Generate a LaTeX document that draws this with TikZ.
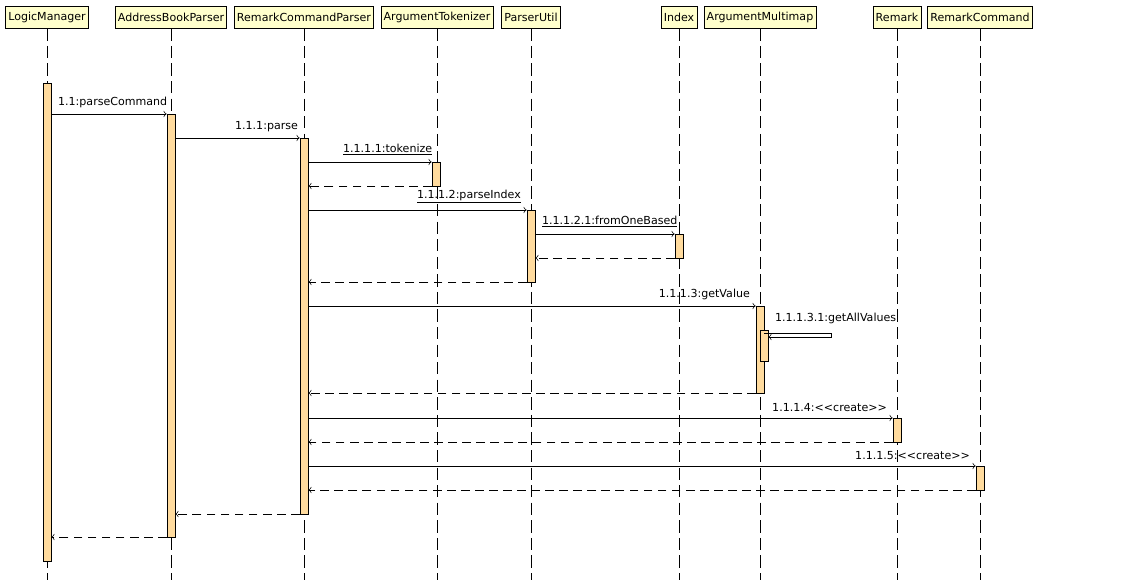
\documentclass[tikz,border=0pt]{standalone}
\usepackage{fontspec}
\setmainfont{DejaVu Sans}
\usetikzlibrary{positioning}
\usetikzlibrary{calc}
\definecolor{headfill}{HTML}{FFFFCC}
\definecolor{actfill}{HTML}{FFDB9E}
\tikzset{
  head/.style={draw, fill=headfill, inner sep=1.5pt, minimum height=22*0.02cm, font=\fontsize{6.3}{7}\selectfont},
  life/.style={dashed, dash pattern=on 7pt off 3pt, thin},
  act/.style={draw, fill=actfill, minimum width=8*0.02cm, inner sep=0pt, thin},
  msg/.style={->, thin},
  ret/.style={->, thin, dashed, dash pattern=on 5pt off 3pt},
  lbl/.style={font=\fontsize{6.3}{7}\selectfont, inner sep=1pt}
}
\begin{document}
\begin{tikzpicture}[x=0.02cm, y=-0.02cm]
	\useasboundingbox (0,0) rectangle (1143,580);

	% lifeline heads
	\node[head] (LM)  at (47,17)  {LogicManager};
	\node[head] (ABP) at (171,17) {AddressBookParser};
	\node[head] (RCP) at (304,17) {RemarkCommandParser};
	\node[head] (AT)  at (437,17) {ArgumentTokenizer};
	\node[head] (PU)  at (531,17) {ParserUtil};
	\node[head] (IDX) at (679,17) {Index};
	\node[head] (AM)  at (760,17) {ArgumentMultimap};
	\node[head] (RM)  at (897,17) {Remark};
	\node[head] (RC)  at (980,17) {RemarkCommand};

	% lifelines
	\foreach \h/\x in {LM/47,ABP/171,RCP/304,AT/437,PU/531,IDX/679,AM/760,RM/897,RC/980}
		\draw[life] (\h.south) -- (\x,580);

	% activations
	\newcommand{\actbox}[4]{\node[act, minimum height={(#4-#3)*0.02cm}] (#1) at (#2,{(#3+#4)/2}) {};}
	\actbox{aLM}{47}{83}{561}
	\actbox{aABP}{171}{114}{537}
	\actbox{aRCP}{304}{138}{514}
	\actbox{aAT}{436}{162}{186}
	\actbox{aPU}{531}{210}{282}
	\actbox{aIDX}{679}{234}{258}
	\actbox{aAM}{760}{306}{393}
	\actbox{aAMs}{764}{330}{361}
	\actbox{aRM}{897}{418}{442}
	\actbox{aRC}{980}{466}{490}

	% messages
	\draw[msg] (aLM.east |- 0,114) -- (aABP.west |- 0,114);
	\node[lbl, anchor=south west] (l1) at (56,110) {1.1:parseCommand};
	\draw[msg] (aABP.east |- 0,138) -- (aRCP.west |- 0,138);
	\node[lbl, anchor=south west] (l2) at (233,134) {1.1.1:parse};
	\draw[msg] (aRCP.east |- 0,162) -- (aAT.west |- 0,162);
	\node[lbl, anchor=south west] (l3) at (341,158) {\underline{1.1.1.1:tokenize}};
	\draw[ret] (aAT.west |- 0,186) -- (aRCP.east |- 0,186);
	\draw[msg] (aRCP.east |- 0,210) -- (aPU.west |- 0,210);
	\node[lbl, anchor=south east] (l4) at (523,206) {\underline{1.1.1.2:parseIndex}};
	\draw[msg] (aPU.east |- 0,234) -- (aIDX.west |- 0,234);
	\node[lbl, anchor=south west] (l5) at (540,230) {\underline{1.1.1.2.1:fromOneBased}};
	\draw[ret] (aIDX.west |- 0,258) -- (aPU.east |- 0,258);
	\draw[ret] (aPU.west |- 0,282) -- (aRCP.east |- 0,282);
	\draw[msg] (aRCP.east |- 0,306) -- (aAM.west |- 0,306);
	\node[lbl, anchor=south east] (l6) at (752,302) {1.1.1.3:getValue};
	\coordinate (selfA) at (831,333);
	\draw[msg] (aAM.east |- 0,333) -- (selfA) -- ++(0,4) -- (aAMs.east |- 0,337);
	\node[lbl, anchor=south west] (l7) at (773,326) {1.1.1.3.1:getAllValues};
	\draw[ret] (aAM.west |- 0,393) -- (aRCP.east |- 0,393);
	\draw[msg] (aRCP.east |- 0,418) -- (aRM.west |- 0,418);
	\node[lbl, anchor=south east] (l8) at (889,414) {1.1.1.4:<{}<create>{}>};
	\draw[ret] (aRM.west |- 0,442) -- (aRCP.east |- 0,442);
	\draw[msg] (aRCP.east |- 0,466) -- (aRC.west |- 0,466);
	\node[lbl, anchor=south east] (l9) at (972,462) {1.1.1.5:<{}<create>{}>};
	\draw[ret] (aRC.west |- 0,490) -- (aRCP.east |- 0,490);
	\draw[ret] (aRCP.west |- 0,514) -- (aABP.east |- 0,514);
	\draw[ret] (aABP.west |- 0,537) -- (aLM.east |- 0,537);
\end{tikzpicture}
\end{document}
